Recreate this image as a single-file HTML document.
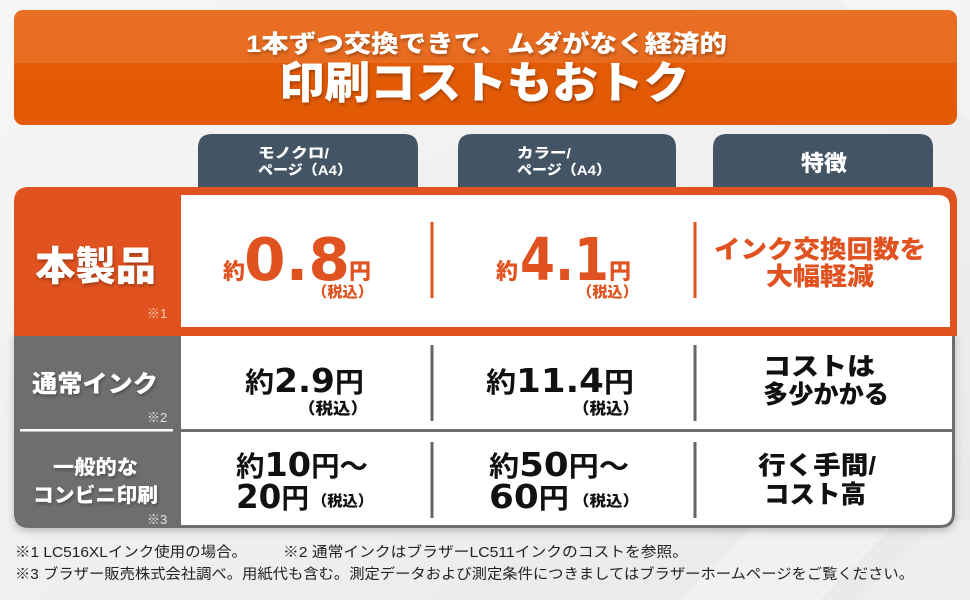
<!DOCTYPE html>
<html lang="ja">
<head>
<meta charset="utf-8">
<style>
  html,body{margin:0;padding:0;background:#efefef;}
  body{width:970px;height:600px;overflow:hidden;}
  svg{display:block;}
  .cjk{font-family:"Liberation Sans","Noto Sans CJK JP",sans-serif;font-weight:900;}
  .num{font-family:"DejaVu Sans","Noto Sans CJK JP",sans-serif;font-weight:700;}
  .fn{font-family:"Liberation Sans","Noto Sans CJK JP",sans-serif;font-weight:400;}
</style>
</head>
<body>
<svg width="970" height="600" viewBox="0 0 970 600" xmlns="http://www.w3.org/2000/svg">
  <defs>
    <linearGradient id="bg" x1="0" y1="0" x2="1" y2="1">
      <stop offset="0" stop-color="#f6f6f6"/>
      <stop offset="1" stop-color="#e9e9e9"/>
    </linearGradient>
    <linearGradient id="ban" x1="0" y1="0" x2="0" y2="1">
      <stop offset="0" stop-color="#E96F24"/>
      <stop offset="0.46" stop-color="#E86C20"/>
      <stop offset="0.46" stop-color="#E35B06"/>
      <stop offset="1" stop-color="#E25A05"/>
    </linearGradient>
    <filter id="ts" x="-10%" y="-30%" width="120%" height="160%">
      <feDropShadow dx="1" dy="2" stdDeviation="1.5" flood-color="#000" flood-opacity="0.3"/>
    </filter>
    <filter id="bs" x="-5%" y="-5%" width="110%" height="120%">
      <feDropShadow dx="0" dy="3" stdDeviation="4" flood-color="#000" flood-opacity="0.22"/>
    </filter>
  </defs>

  <!-- background -->
  <rect x="0" y="0" width="970" height="600" fill="url(#bg)"/>
  <polygon points="840,0 970,0 970,120" fill="#ffffff" opacity="0.35"/>
  <polygon points="680,600 760,520 900,520 820,600" fill="#ffffff" opacity="0.3"/>
  <polygon points="860,600 940,520 970,520 970,600" fill="#ffffff" opacity="0.25"/>

  <!-- banner -->
  <rect x="14" y="10" width="943" height="115" rx="9" ry="9" fill="url(#ban)"/>
  <g class="cjk" fill="#ffffff" filter="url(#ts)">
    <text x="246" y="52" font-size="24" textLength="481" lengthAdjust="spacingAndGlyphs">1本ずつ交換できて、ムダがなく経済的</text>
    <text x="279" y="98" font-size="44" textLength="410" lengthAdjust="spacingAndGlyphs">印刷コストもおトク</text>
  </g>

  <!-- column tabs -->
  <path d="M198,192 V148 Q198,134 212,134 H404 Q418,134 418,148 V192 Z" fill="#435565"/>
  <path d="M458,192 V148 Q458,134 472,134 H662 Q676,134 676,148 V192 Z" fill="#435565"/>
  <path d="M713,192 V148 Q713,134 727,134 H919 Q933,134 933,148 V192 Z" fill="#435565"/>
  <g class="cjk" fill="#ffffff">
    <text x="258" y="158" font-size="14" textLength="71" lengthAdjust="spacingAndGlyphs">モノクロ/</text>
    <text x="258" y="175" font-size="14" textLength="94" lengthAdjust="spacingAndGlyphs">ページ（A4）</text>
    <text x="517" y="158" font-size="14" textLength="54" lengthAdjust="spacingAndGlyphs">カラー/</text>
    <text x="517" y="175" font-size="14" textLength="94" lengthAdjust="spacingAndGlyphs">ページ（A4）</text>
    <text x="824" y="171" font-size="22" text-anchor="middle" textLength="46" lengthAdjust="spacingAndGlyphs">特徴</text>
  </g>

  <!-- gray box (rows 2-3) -->
  <path d="M14,333 H955 V513 Q955,528 940,528 H29 Q14,528 14,513 Z" fill="#6E6E6E" filter="url(#bs)"/>
  <path d="M181,335 H952 V513 Q952,525 940,525 H181 Z" fill="#ffffff"/>
  <rect x="181" y="429" width="771" height="3" fill="#6E6E6E"/>
  <rect x="20" y="429" width="153" height="2.5" fill="#ffffff"/>

  <!-- orange box (row 1) -->
  <path d="M14,336 V202 Q14,187 29,187 H942 Q957,187 957,202 V336 Z" fill="#E0521F"/>
  <path d="M181,195 H938 Q950,195 950,207 V327 H181 Z" fill="#ffffff"/>

  <!-- dividers -->
  <rect x="430.5" y="222" width="3" height="76" fill="#E0521F"/>
  <rect x="693.5" y="222" width="3" height="76" fill="#E0521F"/>
  <rect x="430.5" y="345" width="3" height="76" fill="#666666"/>
  <rect x="693.5" y="345" width="3" height="76" fill="#666666"/>
  <rect x="430.5" y="442" width="3" height="76" fill="#666666"/>
  <rect x="693.5" y="442" width="3" height="76" fill="#666666"/>

  <!-- left labels -->
  <g class="cjk" fill="#ffffff" filter="url(#ts)">
    <text x="35" y="280" font-size="40" textLength="121" lengthAdjust="spacingAndGlyphs">本製品</text>
    <text x="32" y="392" font-size="24" textLength="126" lengthAdjust="spacingAndGlyphs">通常インク</text>
    <text x="53" y="474" font-size="20" textLength="85" lengthAdjust="spacingAndGlyphs">一般的な</text>
    <text x="33" y="502" font-size="20" textLength="125" lengthAdjust="spacingAndGlyphs">コンビニ印刷</text>
  </g>
  <g class="fn" font-size="13">
    <text x="147" y="318" fill="#f6cdb6">※1</text>
    <text x="147" y="422" fill="#e4e4e4">※2</text>
    <text x="147" y="524" fill="#e4e4e4">※3</text>
  </g>

  <!-- row 1 values (orange) -->
  <g fill="#E0521F">
    <text class="cjk" x="223" y="279" font-size="22">約</text>
    <text class="num" x="244" y="280" font-size="59" textLength="106" lengthAdjust="spacingAndGlyphs">0.8</text>
    <text class="cjk" x="349" y="279" font-size="22">円</text>
    <text class="cjk" x="312" y="297" font-size="15" textLength="61" lengthAdjust="spacingAndGlyphs">（税込）</text>

    <text class="cjk" x="496" y="279" font-size="22">約</text>
    <text class="num" x="520" y="280" font-size="59" textLength="89" lengthAdjust="spacingAndGlyphs">4.1</text>
    <text class="cjk" x="609" y="279" font-size="22">円</text>
    <text class="cjk" x="577" y="297" font-size="15" textLength="61" lengthAdjust="spacingAndGlyphs">（税込）</text>

    <text class="cjk" x="820" y="258" font-size="25" text-anchor="middle" textLength="212" lengthAdjust="spacingAndGlyphs">インク交換回数を</text>
    <text class="cjk" x="820" y="285" font-size="25" text-anchor="middle" textLength="108" lengthAdjust="spacingAndGlyphs">大幅軽減</text>
  </g>

  <!-- row 2 values -->
  <g fill="#111111">
    <text class="num" x="245" y="392" font-size="28" textLength="119" lengthAdjust="spacingAndGlyphs"><tspan>約</tspan><tspan font-size="33">2.9</tspan><tspan>円</tspan></text>
    <text class="cjk" x="298" y="414" font-size="16" textLength="70" lengthAdjust="spacingAndGlyphs">（税込）</text>

    <text class="num" x="486" y="392" font-size="28" textLength="148" lengthAdjust="spacingAndGlyphs"><tspan>約</tspan><tspan font-size="33">11.4</tspan><tspan>円</tspan></text>
    <text class="cjk" x="573" y="414" font-size="16" textLength="66" lengthAdjust="spacingAndGlyphs">（税込）</text>

    <text class="cjk" x="819" y="375" font-size="25" text-anchor="middle" textLength="112" lengthAdjust="spacingAndGlyphs">コストは</text>
    <text class="cjk" x="826" y="403" font-size="25" text-anchor="middle" textLength="126" lengthAdjust="spacingAndGlyphs">多少かかる</text>
  </g>

  <!-- row 3 values -->
  <g fill="#111111">
    <text class="num" x="236" y="476" font-size="28" textLength="132" lengthAdjust="spacingAndGlyphs"><tspan>約</tspan><tspan font-size="33">10</tspan><tspan>円〜</tspan></text>
    <text class="num" x="236" y="508" font-size="28" textLength="73" lengthAdjust="spacingAndGlyphs"><tspan font-size="33">20</tspan><tspan>円</tspan></text>
    <text class="cjk" x="312" y="506" font-size="15" textLength="61" lengthAdjust="spacingAndGlyphs">（税込）</text>

    <text class="num" x="489" y="476" font-size="28" textLength="140" lengthAdjust="spacingAndGlyphs"><tspan>約</tspan><tspan font-size="33">50</tspan><tspan>円〜</tspan></text>
    <text class="num" x="489" y="508" font-size="28" textLength="80" lengthAdjust="spacingAndGlyphs"><tspan font-size="33">60</tspan><tspan>円</tspan></text>
    <text class="cjk" x="573" y="506" font-size="15" textLength="66" lengthAdjust="spacingAndGlyphs">（税込）</text>

    <text class="cjk" x="817" y="474" font-size="25" text-anchor="middle" textLength="118" lengthAdjust="spacingAndGlyphs">行く手間/</text>
    <text class="cjk" x="815" y="503" font-size="25" text-anchor="middle" textLength="102" lengthAdjust="spacingAndGlyphs">コスト高</text>
  </g>

  <!-- footnotes -->
  <g class="fn" fill="#222222" font-size="14.5">
    <text x="15" y="557" textLength="232" lengthAdjust="spacingAndGlyphs">※1 LC516XLインク使用の場合。</text>
    <text x="283" y="557" textLength="405" lengthAdjust="spacingAndGlyphs">※2 通常インクはブラザーLC511インクのコストを参照。</text>
    <text x="15" y="579" textLength="899" lengthAdjust="spacingAndGlyphs">※3 ブラザー販売株式会社調べ。用紙代も含む。測定データおよび測定条件につきましてはブラザーホームページをご覧ください。</text>
  </g>
</svg>
</body>
</html>
